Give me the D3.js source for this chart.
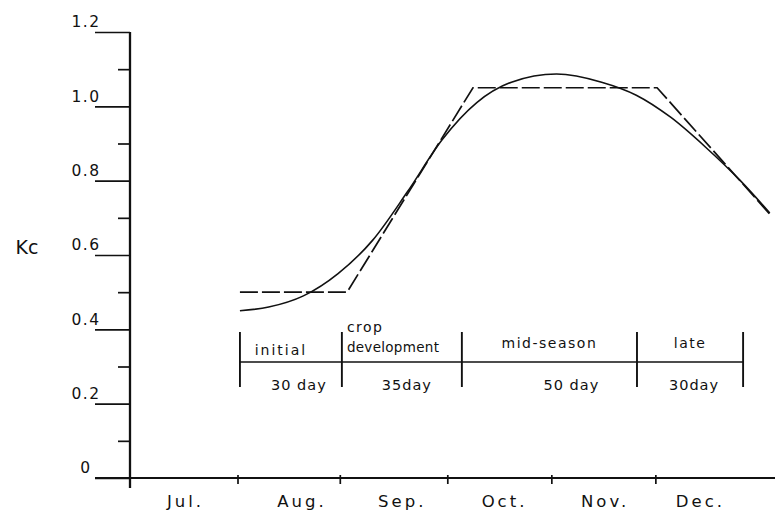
<!DOCTYPE html>
<html>
<head>
<meta charset="utf-8">
<script src="https://cdn.jsdelivr.net/npm/d3@7"></script>
<style>
  html, body { margin: 0; padding: 0; background: #fff; }
  svg { display: block; }
  text { font-family: "DejaVu Sans", sans-serif; fill: #111; }
</style>
</head>
<body>
<svg id="chart" width="778" height="512"></svg>
<script>
// ---------------- DATA ----------------
// days counted from Jul 1
const yMajorTicks = [0, 0.2, 0.4, 0.6, 0.8, 1.0, 1.2];
const yMajorLabels = ["0", "0.2", "0.4", "0.6", "0.8", "1.0", "1.2"];
const yMinorTicks = [0.1, 0.3, 0.5, 0.7, 0.9, 1.1];

const monthNames = ["Jul.", "Aug.", "Sep.", "Oct.", "Nov.", "Dec."];
const monthTickDays = [31, 60.5, 91.5, 121.5, 151.5];
const monthLabelDays = [16, 49.6, 78.5, 108, 137, 164.5];

// FAO crop coefficient (dashed, piecewise linear)
const stepDays = [31.7, 62.6, 98.9, 152, 184.5];
const stepKc   = [0.50, 0.50, 1.05, 1.05, 0.71];

// smoothed crop coefficient curve
const smoothDays = [31.7, 40, 50, 60, 70, 80, 90, 100, 110, 123, 136, 146, 156, 166, 176, 184.5];
const smoothKc   = [0.45, 0.46, 0.49, 0.55, 0.64, 0.77, 0.91, 1.01, 1.065, 1.087, 1.065, 1.03, 0.97, 0.89, 0.80, 0.713];

// growth stages
const stageBoundDays = [31.7, 61.1, 95.7, 146.2, 176.8];
const stageNames = [["initial"], ["crop", "development"], ["mid-season"], ["late"]];
const stageLengths = ["30 day", "35day", "50 day", "30day"];

// ---------------- CHART ----------------
const svg = d3.select("#chart");
const x = d3.scaleLinear().domain([0, 186]).range([130, 775]);
const y = d3.scaleLinear().domain([0, 1.2]).range([478, 32]);
const axisX0 = x(0);

// Y axis: major ticks
const gYMaj = svg.append("g").attr("transform", `translate(${axisX0},0)`)
  .call(d3.axisLeft(y).tickValues(yMajorTicks).tickSize(35).tickFormat(""));
gYMaj.select(".domain").remove();
gYMaj.selectAll(".tick line").attr("stroke", "#111").attr("stroke-width", 1.7);

// minor ticks
const gYMin = svg.append("g").attr("transform", `translate(${axisX0},0)`)
  .call(d3.axisLeft(y).tickValues(yMinorTicks).tickSize(12).tickFormat(""));
gYMin.select(".domain").remove();
gYMin.selectAll(".tick line").attr("stroke", "#111").attr("stroke-width", 1.7);

// y labels (above-left of tick)
svg.append("g").selectAll("text").data(yMajorTicks).join("text")
  .attr("x", 86).attr("y", d => y(d) - 10).attr("dy", "0.35em")
  .attr("text-anchor", "middle").style("font-size", "15.5px").style("letter-spacing", "1.5px")
  .text((d, i) => yMajorLabels[i]);

// Y axis line
svg.append("line").attr("x1", axisX0).attr("x2", axisX0)
  .attr("y1", y(1.2)).attr("y2", y(0) + 10)
  .attr("stroke", "#111").attr("stroke-width", 2.3);

// X axis line
svg.append("line").attr("x1", 95).attr("x2", x(186))
  .attr("y1", y(0)).attr("y2", y(0))
  .attr("stroke", "#111").attr("stroke-width", 1.9);

// X ticks
const gX = svg.append("g").attr("transform", `translate(0,${y(0) - 3})`)
  .call(d3.axisBottom(x).tickValues(monthTickDays).tickSize(9).tickFormat(""));
gX.select(".domain").remove();
gX.selectAll(".tick line").attr("stroke", "#111").attr("stroke-width", 1.7);

// month labels
svg.append("g").selectAll("text").data(monthNames).join("text")
  .attr("x", (d, i) => x(monthLabelDays[i])).attr("y", 501).attr("dy", "0.35em")
  .attr("text-anchor", "middle").style("font-size", "16.5px").style("letter-spacing", "3px")
  .text(d => d);

// Kc label
svg.append("text").attr("x", 27).attr("y", 247).attr("dy", "0.35em")
  .attr("text-anchor", "middle").style("font-size", "19px").text("Kc");

// Curves
const line = d3.line().x(d => x(d[0])).y(d => y(d[1]));
svg.append("path")
  .datum(stepDays.map((d, i) => [d, stepKc[i]]))
  .attr("d", line).attr("fill", "none").attr("stroke", "#111")
  .attr("stroke-width", 1.7).attr("stroke-dasharray", "18,4");

const smooth = d3.line().x(d => x(d[0])).y(d => y(d[1])).curve(d3.curveMonotoneX);
svg.append("path")
  .datum(smoothDays.map((d, i) => [d, smoothKc[i]]))
  .attr("d", smooth).attr("fill", "none").attr("stroke", "#111").attr("stroke-width", 1.6);

// Stage band
const bandY = 362;
svg.append("line").attr("x1", x(stageBoundDays[0])).attr("x2", x(stageBoundDays[stageBoundDays.length - 1]))
  .attr("y1", bandY).attr("y2", bandY).attr("stroke", "#111").attr("stroke-width", 1.7);
svg.append("g").selectAll("line").data(stageBoundDays).join("line")
  .attr("x1", d => x(d)).attr("x2", d => x(d))
  .attr("y1", 332).attr("y2", 387)
  .attr("stroke", "#111").attr("stroke-width", 1.9);

// stage names
const nameG = svg.append("g");
stageNames.forEach((lines, i) => {
  const a = stageBoundDays[i], b = stageBoundDays[i + 1];
  const cx = (x(a) + x(b)) / 2;
  if (lines.length === 1) {
    nameG.append("text").attr("x", cx + (i === 0 ? -10 : 0)).attr("y", i === 0 ? 350 : 343).attr("dy", "0.35em")
      .attr("text-anchor", "middle").style("font-size", "14px").style("letter-spacing", i === 0 ? "2px" : "1.5px")
      .text(lines[0]);
  } else {
    nameG.append("text").attr("x", x(a) + 5).attr("y", 327).attr("dy", "0.35em")
      .attr("text-anchor", "start").style("font-size", "14px").style("letter-spacing", "1.5px").text(lines[0]);
    nameG.append("text").attr("x", x(a) + 5).attr("y", 347).attr("dy", "0.35em")
      .attr("text-anchor", "start").style("font-size", "13.5px").style("letter-spacing", "0.3px").text(lines[1]);
  }
});

// stage lengths
const lenOffsets = [8, 5, 22, 4];
svg.append("g").selectAll("text").data(stageLengths).join("text")
  .attr("x", (d, i) => (x(stageBoundDays[i]) + x(stageBoundDays[i + 1])) / 2 + lenOffsets[i])
  .attr("y", 385).attr("dy", "0.35em")
  .attr("text-anchor", "middle").style("font-size", "14.5px").style("letter-spacing", "1px")
  .text(d => d);
</script>
</body>
</html>
